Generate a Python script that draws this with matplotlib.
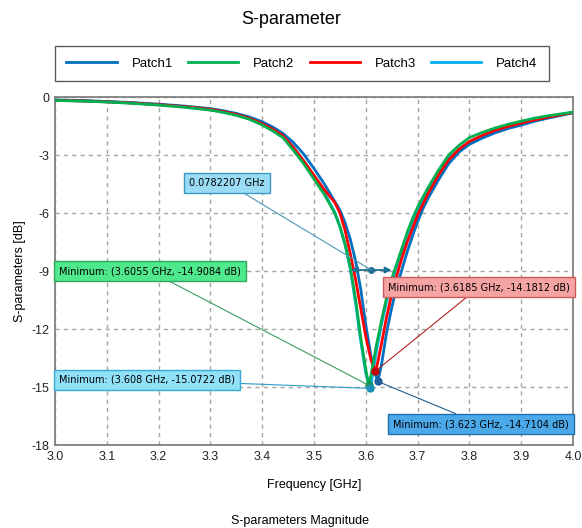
import matplotlib
matplotlib.use('Agg')
import matplotlib.pyplot as plt

# frequency [GHz] and S11 [dB], one pair of lists per patch
freq1 = [3.00, 3.05, 3.10, 3.15, 3.20, 3.25, 3.30, 3.325, 3.35, 3.375, 3.40, 3.42, 3.44, 3.46, 3.48,
         3.50, 3.52, 3.54, 3.55, 3.56, 3.57, 3.58, 3.59, 3.60, 3.61, 3.617, 3.623, 3.63, 3.64, 3.65,
         3.66, 3.67, 3.68, 3.69, 3.70, 3.71, 3.72, 3.74, 3.76, 3.78, 3.80, 3.825, 3.85, 3.875, 3.90,
         3.925, 3.95, 4.00]
s11_1 = [-0.15, -0.18, -0.23, -0.29, -0.37, -0.47, -0.60, -0.71, -0.85, -1.03, -1.28, -1.55, -1.88, -2.35, -2.95,
         -3.70, -4.50, -5.40, -5.85, -6.50, -7.35, -8.45, -9.9, -11.8, -13.4, -14.2, -14.7104, -13.9, -12.2, -10.9,
         -9.8, -8.9, -8.0, -7.2, -6.45, -5.8, -5.25, -4.3, -3.45, -2.85, -2.45, -2.12, -1.85, -1.63, -1.45,
         -1.26, -1.10, -0.82]

freq2 = [3.00, 3.05, 3.10, 3.15, 3.20, 3.25, 3.30, 3.325, 3.35, 3.375, 3.40, 3.42, 3.44, 3.46, 3.48,
         3.50, 3.52, 3.54, 3.55, 3.56, 3.57, 3.58, 3.59, 3.60, 3.6055, 3.61, 3.62, 3.63, 3.64, 3.65,
         3.66, 3.67, 3.68, 3.69, 3.70, 3.72, 3.74, 3.76, 3.78, 3.80, 3.825, 3.85, 3.875, 3.90,
         3.925, 3.95, 4.00]
s11_2 = [-0.18, -0.21, -0.26, -0.33, -0.42, -0.53, -0.68, -0.80, -0.95, -1.15, -1.45, -1.75, -2.10, -2.75, -3.45,
         -4.25, -5.05, -6.0, -6.7, -7.6, -8.8, -10.4, -12.4, -14.1, -14.9084, -14.4, -12.9, -11.6, -10.4, -9.4,
         -8.6, -7.8, -7.0, -6.3, -5.7, -4.7, -3.8, -3.0, -2.5, -2.1, -1.83, -1.60, -1.41, -1.25,
         -1.10, -0.98, -0.78]

freq3 = [3.00, 3.05, 3.10, 3.15, 3.20, 3.25, 3.30, 3.325, 3.35, 3.375, 3.40, 3.42, 3.44, 3.46, 3.48,
         3.50, 3.52, 3.54, 3.55, 3.56, 3.57, 3.58, 3.59, 3.60, 3.61, 3.6185, 3.62, 3.63, 3.64, 3.65,
         3.66, 3.67, 3.68, 3.69, 3.70, 3.72, 3.74, 3.76, 3.78, 3.80, 3.825, 3.85, 3.875, 3.90,
         3.925, 3.95, 4.00]
s11_3 = [-0.17, -0.20, -0.25, -0.31, -0.40, -0.50, -0.64, -0.76, -0.90, -1.10, -1.38, -1.66, -2.00, -2.60, -3.30,
         -4.05, -4.80, -5.45, -6.0, -6.9, -8.1, -9.4, -10.9, -12.4, -13.6, -14.1812, -14.1, -12.8, -11.4, -10.2,
         -9.2, -8.3, -7.5, -6.8, -6.1, -5.0, -4.05, -3.25, -2.7, -2.3, -1.98, -1.72, -1.52, -1.35,
         -1.19, -1.05, -0.80]

freq4 = [3.00, 3.05, 3.10, 3.15, 3.20, 3.25, 3.30, 3.325, 3.35, 3.375, 3.40, 3.42, 3.44, 3.46, 3.48,
         3.50, 3.52, 3.54, 3.55, 3.56, 3.57, 3.58, 3.59, 3.60, 3.608, 3.61, 3.62, 3.63, 3.64, 3.65,
         3.66, 3.67, 3.68, 3.69, 3.70, 3.72, 3.74, 3.76, 3.78, 3.80, 3.825, 3.85, 3.875, 3.90,
         3.925, 3.95, 4.00]
s11_4 = [-0.17, -0.20, -0.25, -0.31, -0.40, -0.50, -0.64, -0.75, -0.90, -1.09, -1.36, -1.65, -2.00, -2.60, -3.30,
         -4.10, -4.95, -5.95, -6.7, -7.65, -8.9, -10.6, -12.6, -14.3, -15.0722, -14.9, -13.2, -11.8, -10.6, -9.6,
         -8.75, -7.95, -7.15, -6.45, -5.85, -4.85, -3.95, -3.2, -2.7, -2.35, -2.05, -1.80, -1.58, -1.40,
         -1.23, -1.08, -0.80]

names = ['Patch1', 'Patch2', 'Patch3', 'Patch4']
colors = ['#0070C0', '#00B050', '#FF0000', '#00B0F0']

# minima markers (freq, dB)
min_freq = [3.623, 3.6055, 3.6185, 3.608]
min_db = [-14.7104, -14.9084, -14.1812, -15.0722]

# bandwidth marker
bw_left = 3.5715
bw_width = 0.0782207
bw_level = -8.95

xticks = [3.0, 3.1, 3.2, 3.3, 3.4, 3.5, 3.6, 3.7, 3.8, 3.9, 4.0]
yticks = [0, -3, -6, -9, -12, -15, -18]

plt.rcParams['font.family'] = ['Liberation Sans', 'DejaVu Sans']

fig = plt.figure(figsize=(5.82, 5.28), dpi=100)
ax = fig.add_axes([55 / 582, 83 / 528, 518 / 582, 348 / 528])

# Patch4 goes underneath, the others on top
order = [3, 0, 2, 1]
all_freq = [freq1, freq2, freq3, freq4]
all_s11 = [s11_1, s11_2, s11_3, s11_4]
lines = {}
for i in order:
    ln, = ax.plot(all_freq[i], all_s11[i], color=colors[i], lw=2.0, label=names[i],
                  solid_joinstyle='round', zorder=3)
    lines[i] = ln

ax.set_xlim(3.0, 4.0)
ax.set_ylim(-18, 0)
ax.set_xticks(xticks)
ax.set_xticklabels(['%.1f' % t for t in xticks])
ax.set_yticks(yticks)
ax.set_yticklabels([str(t) for t in yticks])
ax.tick_params(length=0, labelsize=9, colors='#222222', pad=4)
ax.grid(True, color='#A6A6A6', linestyle=(0, (3, 3)), lw=1.0)
for sp in ax.spines.values():
    sp.set_color('#808080')
    sp.set_linewidth(1.3)
ax.set_xlabel('Frequency [GHz]', fontsize=9, labelpad=12)
ax.set_ylabel('S-parameters [dB]', fontsize=9, labelpad=4)

# bandwidth arrow
ax.annotate('', xy=(bw_left, bw_level), xytext=(bw_left + bw_width, bw_level),
            arrowprops=dict(arrowstyle='<|-|>', color='#1B6E94', lw=1.3,
                            mutation_scale=9, shrinkA=0, shrinkB=0), zorder=5)
ax.plot([bw_left + bw_width / 2], [bw_level], 'o', color='#1B6E94', ms=4, zorder=6)
ax.annotate('%.7f GHz' % bw_width, xy=(bw_left + bw_width / 2, bw_level),
            xytext=(0.332, 0.753), textcoords='axes fraction', ha='center', va='center',
            fontsize=7, family='DejaVu Sans',
            bbox=dict(boxstyle='square,pad=0.5', fc='#9ADCF5', ec='#3A9AC4', lw=1),
            arrowprops=dict(arrowstyle='-', color='#4A98B8', lw=0.8, shrinkA=0, shrinkB=0),
            zorder=7)

# minimum labels: box centre (axes fraction), face, edge, line colour
box_pos = [(0.822, 0.060), (0.183, 0.500), (0.819, 0.454), (0.178, 0.187)]
box_fc = ['#4BA9EA', '#50E88C', '#F5A3A3', '#90E0F8']
box_ec = ['#1E6EB0', '#2EA860', '#D05A5A', '#3AAAD0']
line_c = ['#1F5F8F', '#3C9D60', '#B22222', '#2D9CC8']
dot_c = ['#1F5F9F', '#15905A', '#C00000', '#1890B8']
for i in range(4):
    ax.plot([min_freq[i]], [min_db[i]], 'o', color=dot_c[i], ms=5, zorder=6)
    txt = 'Minimum: (%s GHz, %s dB)' % (('%.4f' % min_freq[i]).rstrip('0'), '%.4f' % min_db[i])
    ax.annotate(txt, xy=(min_freq[i], min_db[i]), xytext=box_pos[i], textcoords='axes fraction',
                ha='center', va='center', fontsize=7, family='DejaVu Sans',
                bbox=dict(boxstyle='square,pad=0.5', fc=box_fc[i], ec=box_ec[i], lw=1),
                arrowprops=dict(arrowstyle='-', color=line_c[i], lw=0.8, shrinkA=0, shrinkB=0),
                zorder=7)

fig.suptitle('S-parameter', y=1 - 20 / 528, va='center', fontsize=13)

handles = [lines[i] for i in range(4)]
leg = fig.legend(handles, names, loc='center', ncol=4, mode='expand',
                 bbox_to_anchor=(48 / 582, 1 - 82 / 528, 508 / 582, 37 / 528),
                 fontsize=9.5, handlelength=3.8, handletextpad=1.15, frameon=True, fancybox=False,
                 edgecolor='#333333', borderpad=0.9, columnspacing=1.5)
leg.get_frame().set_linewidth(1.0)

fig.text(300 / 582, 1 - 521 / 528, 'S-parameters Magnitude', ha='center', va='center', fontsize=9)

fig.savefig('out.png', dpi=100)
